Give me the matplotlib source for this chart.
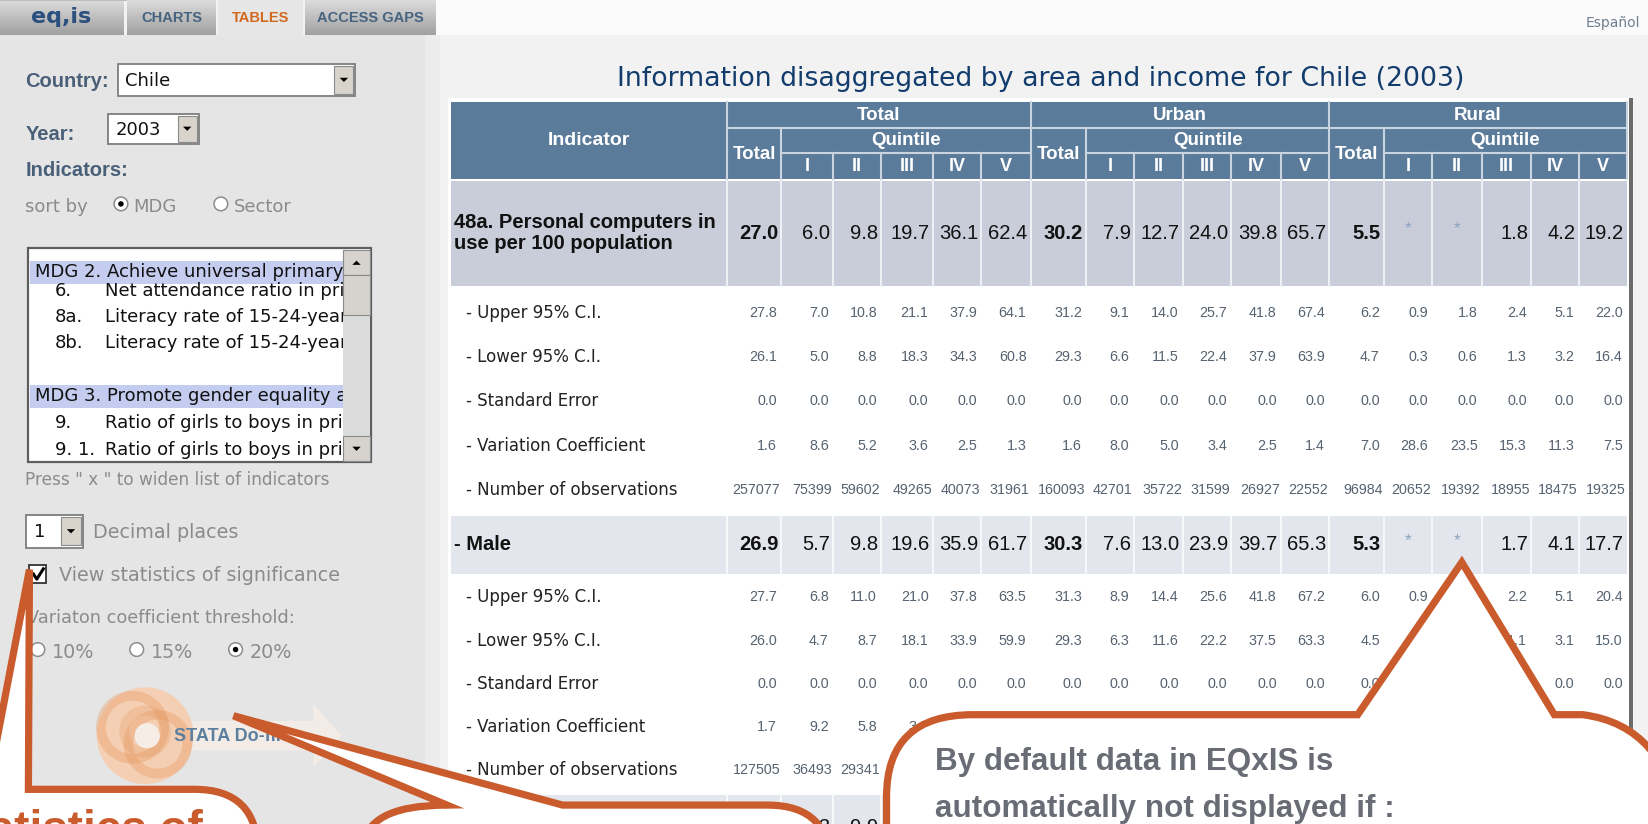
import matplotlib
matplotlib.use("Agg")
import matplotlib.pyplot as plt
from matplotlib.patches import Rectangle, Circle, Polygon, PathPatch
from matplotlib.path import Path
import numpy as np

# working units = reference as displayed (1568 x 784), saved at 1649 x 824
W, H = 1568, 784

# ================= DATA =================
title = "Information disaggregated by area and income for Chile (2003)"
groups = ["Total", "Urban", "Rural"]
quintiles = ["I", "II", "III", "IV", "V"]
sub_labels = ["- Upper 95% C.I.", "- Lower 95% C.I.", "- Standard Error",
              "- Variation Coefficient", "- Number of observations"]

# columns: Total(Total,I..V) Urban(Total,I..V) Rural(Total,I..V); "*" = not displayed
pc_value = [27.0, 6.0, 9.8, 19.7, 36.1, 62.4, 30.2, 7.9, 12.7, 24.0, 39.8, 65.7,
            5.5, "*", "*", 1.8, 4.2, 19.2]
pc_upper = [27.8, 7.0, 10.8, 21.1, 37.9, 64.1, 31.2, 9.1, 14.0, 25.7, 41.8, 67.4,
            6.2, 0.9, 1.8, 2.4, 5.1, 22.0]
pc_lower = [26.1, 5.0, 8.8, 18.3, 34.3, 60.8, 29.3, 6.6, 11.5, 22.4, 37.9, 63.9,
            4.7, 0.3, 0.6, 1.3, 3.2, 16.4]
pc_se = [0.0, 0.0, 0.0, 0.0, 0.0, 0.0, 0.0, 0.0, 0.0, 0.0, 0.0, 0.0,
         0.0, 0.0, 0.0, 0.0, 0.0, 0.0]
pc_cv = [1.6, 8.6, 5.2, 3.6, 2.5, 1.3, 1.6, 8.0, 5.0, 3.4, 2.5, 1.4,
         7.0, 28.6, 23.5, 15.3, 11.3, 7.5]
pc_obs = [257077, 75399, 59602, 49265, 40073, 31961, 160093, 42701, 35722, 31599,
          26927, 22552, 96984, 20652, 19392, 18955, 18475, 19325]

# Male rows (None = hidden under the callouts)
male_value = [26.9, 5.7, 9.8, 19.6, 35.9, 61.7, 30.3, 7.6, 13.0, 23.9, 39.7, 65.3,
              5.3, "*", "*", 1.7, 4.1, 17.7]
male_upper = [27.7, 6.8, 11.0, 21.0, 37.8, 63.5, 31.3, 8.9, 14.4, 25.6, 41.8, 67.2,
              6.0, 0.9, None, 2.2, 5.1, 20.4]
male_lower = [26.0, 4.7, 8.7, 18.1, 33.9, 59.9, 29.3, 6.3, 11.6, 22.2, 37.5, 63.3,
              4.5, None, None, 1.1, 3.1, 15.0]
male_se = [0.0, 0.0, 0.0, 0.0, 0.0, 0.0, 0.0, 0.0, 0.0, 0.0, 0.0, 0.0,
           0.0, None, None, None, 0.0, 0.0]
male_cv = [1.7, 9.2, 5.8, 3.8, None, None, None, None, None, None, None, None,
           None, None, None, None, None, None]
male_obs = [127505, 36493, 29341, 24630, None, None, None, None, None, None, None, None,
            None, None, None, None, None, None]
female_value = [None, 6.3, 9.9, 19.8, None, None, None, None, None, None, None, None,
                None, None, None, None, None, None]

# list box entries (cut by the scrollbar, as on screen)
list_items = [("MDG 2. Achieve universal primary", None, True),
              ("6.", "Net attendance ratio in prim", False),
              ("8a.", "Literacy rate of 15-24-year", False),
              ("8b.", "Literacy rate of 15-24-year", False),
              ("", "", False),
              ("MDG 3. Promote gender equality a", None, True),
              ("9.", "Ratio of girls to boys in pri", False),
              ("9. 1.", "Ratio of girls to boys in pri", False)]

callout_text = ["By default data in EQxIS is", "automatically not displayed if :"]

# ================= LAYOUT / STYLE =================
col_x = [429, 691, 743, 792, 838, 887, 933, 980, 1033, 1078, 1125, 1171, 1218,
         1264, 1316, 1362, 1409, 1456, 1501, 1547]
HEAD_Y = [97, 122, 146, 170]
HEAD_BG = "#5b7b9b"
HEAD_LINE = "#c9d4df"
ORANGE = "#c95b2c"
NUM_FONT = ["Liberation Sans"]
BIG_FONT = ["Liberation Sans"]

fig = plt.figure(figsize=(16.49, 8.24), dpi=100, facecolor="#f2f2f2")
ax = fig.add_axes([0, 0, 1, 1])
ax.set_facecolor("#f2f2f2")


def rect(x0, y0, x1, y1, fc, ec="none", lw=0, z=1, **kw):
    p = Rectangle((x0, y0), x1 - x0, y1 - y0, facecolor=fc, edgecolor=ec,
                  linewidth=lw, zorder=z, **kw)
    ax.add_patch(p)
    return p


def tri(cx, cy, up=False, s=4, z=4):
    d = -s if up else s
    ax.add_patch(Polygon([(cx - s, cy - d / 2), (cx + s, cy - d / 2), (cx, cy + d / 2)],
                         closed=True, facecolor="black", edgecolor="none", zorder=z))


def combo(x0, y0, x1, y1, text, bw=19):
    rect(x0, y0, x1, y1, "white", "#7d7d7d", 1.3, z=3)
    rect(x1 - bw - 1, y0 + 2, x1 - 2, y1 - 2, "#d8d4cc", "#8a8a8a", 0.8, z=4)
    tri(x1 - bw / 2 - 1.5, (y0 + y1) / 2, z=5)
    ax.text(x0 + 7, (y0 + y1) / 2 + 1, text, fontsize=13, color="#111111",
            va="center", ha="left", zorder=5, family="DejaVu Sans")


def radio(cx, cy, on=False):
    ax.add_patch(Circle((cx, cy), 6.5, facecolor="white", edgecolor="#8c8c8c",
                        linewidth=1.1, zorder=4))
    if on:
        ax.add_patch(Circle((cx, cy), 2.6, facecolor="black", zorder=5))


def gray(x, y, s, size=13.5, **kw):
    ax.text(x, y, s, fontsize=size, color="#8b8b8b", va="center", ha="left",
            family="DejaVu Sans", zorder=4, **kw)


# ---------- page background ----------
rect(0, 33, 404, H + 5, "#e5e5e5")
rect(404, 33, 418, H + 5, "#ececec")
rect(414, 0, W, 33, "#fbfbfb")
ax.text(1560, 22, "Español", fontsize=10, color="#6f7f8f", ha="right", va="center",
        family="DejaVu Sans")

# ---------- tabs ----------
grad = np.linspace(0.86, 0.63, 40)[:, None] * np.ones((1, 10))
tabs = [(0, 117, "eq,is"), (121, 205, "CHARTS"), (207, 288, "TABLES"), (290, 414, "ACCESS GAPS")]
for x0, x1, name in tabs:
    if name == "TABLES":
        rect(x0, 0, x1, 34, "#e6e6e6", z=2)
        ax.text((x0 + x1) / 2, 17, name, fontsize=10.5, weight="bold", color="#d2691e",
                ha="center", va="center", family="Liberation Sans", zorder=3)
        continue
    ax.imshow(grad, extent=(x0, x1, 33, 0), cmap="gray", vmin=0, vmax=1,
              aspect="auto", zorder=2, interpolation="bilinear")
    if name == "eq,is":
        ax.text(58, 16, name, fontsize=16, weight="bold", color="#2b4f7e",
                ha="center", va="center", family="DejaVu Sans", zorder=3)
    else:
        ax.text((x0 + x1) / 2, 17, name, fontsize=10.5, weight="bold", color="#46637f",
                ha="center", va="center", family="Liberation Sans", zorder=3)
rect(0, 0, 121, 1, "#bdbdbd", z=3)

# ---------- left panel ----------
lab = dict(fontsize=14.5, weight="bold", color="#4a6079", va="center", ha="left",
           family="Liberation Sans", zorder=4)
ax.text(24, 78, "Country:", **lab)
ax.text(24, 128, "Year:", **lab)
ax.text(24, 162, "Indicators:", **lab)
combo(112, 61, 338, 91, "Chile")
combo(103, 108, 189, 137, "2003")

gray(24, 197, "sort by", size=13)
radio(115, 194, True)
gray(127, 197, "MDG", size=13)
radio(210, 194)
gray(222, 197, "Sector", size=13)

# indicator list box
rect(27, 236, 353, 440, "white", "#5e5e5e", 1.6, z=3)
clip = Rectangle((29, 238), 297, 200, transform=ax.transData)
row_y = [259, 277, 302, 326, 352, 377, 402, 428]
for (a, b, hl), yy in zip(list_items, row_y):
    if hl:
        rect(29, yy - 11, 326, yy + 11, "#c4ccef", z=3)
        t = ax.text(33, yy, a, fontsize=13, color="#111111", va="center",
                    family="DejaVu Sans", zorder=4, clip_on=True)
        t.set_clip_path(clip)
    elif a:
        for xx, s in [(52, a), (100, b)]:
            t = ax.text(xx, yy, s, fontsize=13, color="#111111", va="center",
                        family="DejaVu Sans", zorder=4, clip_on=True)
            t.set_clip_path(clip)
rect(326, 238, 352, 439, "#dcdcdc", z=4, hatch="....")
rect(326, 238, 352, 262, "#d6d3ce", "#8a8a8a", 0.8, z=5)
tri(339, 250, up=True, z=6)
rect(326, 262, 352, 300, "#d6d3ce", "#8a8a8a", 0.8, z=5)
rect(326, 415, 352, 439, "#d6d3ce", "#8a8a8a", 0.8, z=5)
tri(339, 427, z=6)

gray(24, 457, 'Press " x " to widen list of indicators', size=12.2)

combo(25, 490, 79, 521, "1", bw=20)
gray(88, 507, "Decimal places", size=13.8)

rect(28, 538, 44, 555, "white", "#333333", 1.3, z=4)
ax.plot([31, 35, 42], [545, 551, 540], color="black", lw=2.2, zorder=5,
        solid_capstyle="butt")
gray(56, 548, "View statistics of significance", size=13.8)
gray(26, 588, "Variaton coefficient threshold:", size=12.8)
for cx, txt, on in [(36, "10%", False), (130, "15%", False), (224, "20%", True)]:
    radio(cx, 618, on)
    gray(cx + 13, 621, txt, size=13.8)

# STATA do-file button (faded)
ax.add_patch(Polygon([(160, 686), (298, 686), (298, 670), (325, 700), (298, 730),
                      (298, 714), (160, 714)], closed=True, facecolor="#f3ece6",
                     edgecolor="none", zorder=3))
ax.add_patch(Circle((138, 700), 46, facecolor="#f4cfb3", edgecolor="none", zorder=3))
for cx, cy, r, a in [(126, 692, 30, 0.35), (150, 708, 28, 0.35), (138, 696, 20, 0.25)]:
    ax.add_patch(Circle((cx, cy), r, facecolor="none", edgecolor="#e6955c",
                        linewidth=7, alpha=a, zorder=4))
ax.add_patch(Circle((140, 700), 12, facecolor="#f7ede7", edgecolor="none", zorder=4))
ax.text(165, 701, "STATA Do-file", fontsize=13, weight="bold", color="#5d7f9e",
        va="center", ha="left", family="Liberation Sans", zorder=5)

# ---------- title and table ----------
ax.text(990, 75, title, fontsize=19.3, color="#123c6c", ha="center", va="center",
        family="DejaVu Sans")
rect(426, 93, 1549, H + 5, "white", z=1)
rect(1549, 93, 1553, H + 5, "#6b6b6b", z=2)

# header
rect(col_x[0], HEAD_Y[0], col_x[-1], HEAD_Y[3], HEAD_BG, z=2)
hd = dict(color="white", weight="bold", ha="center", va="center",
          family="Liberation Sans", zorder=4)
ax.text((col_x[0] + col_x[1]) / 2, 134, "Indicator", fontsize=14, **hd)
ax.plot([col_x[1], col_x[1]], [HEAD_Y[0], HEAD_Y[3]], color=HEAD_LINE, lw=1.5, zorder=3)
for g, name in enumerate(groups):
    x0, x1 = col_x[1 + 6 * g], col_x[7 + 6 * g]
    xt = col_x[2 + 6 * g]
    ax.plot([x1, x1], [HEAD_Y[0], HEAD_Y[3]], color=HEAD_LINE, lw=1.5, zorder=3)
    ax.plot([x0, x1], [HEAD_Y[1], HEAD_Y[1]], color=HEAD_LINE, lw=1.5, zorder=3)
    ax.plot([xt, xt], [HEAD_Y[1], HEAD_Y[3]], color=HEAD_LINE, lw=1.5, zorder=3)
    ax.plot([xt, x1], [HEAD_Y[2], HEAD_Y[2]], color=HEAD_LINE, lw=1.5, zorder=3)
    ax.text((x0 + x1) / 2, 110, name, fontsize=13.5, **hd)
    ax.text((x0 + xt) / 2, 147, "Total", fontsize=13.5, **hd)
    ax.text((xt + x1) / 2, 134, "Quintile", fontsize=13.5, **hd)
    for k, q in enumerate(quintiles):
        a, b = col_x[2 + 6 * g + k], col_x[3 + 6 * g + k]
        if k > 0:
            ax.plot([a, a], [HEAD_Y[2], HEAD_Y[3]], color=HEAD_LINE, lw=1.5, zorder=3)
        ax.text((a + b) / 2, 158, q, fontsize=13, **hd)


def band(y0, y1, fc, lc):
    rect(col_x[0], y0, col_x[-1], y1, fc, z=2)
    for x in col_x[1:-1]:
        ax.plot([x, x], [y0, y1], color=lc, lw=1.5, zorder=3)


def values(vals, yc, size, color, bold_total=False, pad=3):
    for j, v in enumerate(vals):
        if v is None:
            continue
        a, b = col_x[j + 1], col_x[j + 2]
        if v == "*":
            ax.text((a + b) / 2, yc - 4, "*", fontsize=size - 2, color="#8ea3c2",
                    ha="center", va="center", family=NUM_FONT, zorder=4)
            continue
        s = f"{v:.1f}" if isinstance(v, float) else str(v)
        ax.text(b - pad, yc, s, fontsize=size, color=color, ha="right", va="center",
                family=NUM_FONT, zorder=4,
                weight="bold" if (bold_total and j % 6 == 0) else "normal")


def block(label, main_vals, subs, y_top, y_bot, fc, lc, sub_y):
    band(y_top, y_bot, fc, lc)
    yc = (y_top + y_bot) / 2
    ax.text(432, yc, label, fontsize=14.5, weight="bold", color="#111111",
            ha="left", va="center", family="Liberation Sans", zorder=4,
            linespacing=1.15)
    values(main_vals, yc, 14.5, "#111111", bold_total=True)
    for lbl, vals, yy in zip(sub_labels, subs, sub_y):
        ax.text(443, yy, lbl, fontsize=12, color="#222222", ha="left", va="center",
                family="DejaVu Sans", zorder=4)
        values(vals, yy, 10.3, "#56626f", pad=1 if isinstance(vals[0], int) else 4)


block("48a. Personal computers in\nuse per 100 population", pc_value,
      [pc_upper, pc_lower, pc_se, pc_cv, pc_obs], 172, 272, "#c9cdd9", "#eef0f4",
      [298, 340, 382, 424, 466])
block("- Male", male_value,
      [male_upper, male_lower, male_se, male_cv, male_obs], 491, 546, "#e4e6ed", "#f7f8fa",
      [568, 610, 651, 692, 733])
band(756, H + 5, "#e4e6ed", "#f7f8fa")
values(female_value, 787, 14.5, "#111111")

# ---------- callouts ----------
M, L, C, X = Path.MOVETO, Path.LINETO, Path.CURVE3, Path.CLOSEPOLY


def bubble(verts, codes):
    ax.add_patch(PathPatch(Path(verts, codes), facecolor="white", edgecolor=ORANGE,
                           linewidth=5.2, joinstyle="miter", zorder=10))


bubble([(-100, 850), (-100, 751), (-12, 751), (28, 542), (27, 751), (185, 751),
        (245, 751), (245, 811), (245, 850), (-100, 850)],
       [M, L, L, L, L, L, C, C, L, X])
bubble([(345, 850), (345, 810), (345, 766), (425, 766), (222, 681), (535, 766),
        (730, 766), (790, 766), (790, 826), (790, 850), (345, 850)],
       [M, L, C, C, L, L, L, C, C, L, X])
bubble([(843, 850), (843, 758), (843, 680), (925, 680), (1291, 680), (1390, 535),
        (1478, 680), (1505, 680), (1585, 690), (1600, 790), (1600, 850), (843, 850)],
       [M, L, C, C, L, L, L, L, C, C, L, X])

ax.text(193, 802, "statistics of", fontsize=33, weight="bold", color=ORANGE,
        ha="right", va="baseline", family=BIG_FONT, zorder=11)
for s, yb in zip(callout_text, [733, 777]):
    ax.text(889, yb, s, fontsize=22.6, weight="bold", color="#6a6c75", ha="left",
            va="baseline", family=BIG_FONT, zorder=11)

ax.set_xlim(0, W)
ax.set_ylim(H, 0)
ax.axis("off")
fig.savefig("out.png", dpi=100, facecolor=fig.get_facecolor())
